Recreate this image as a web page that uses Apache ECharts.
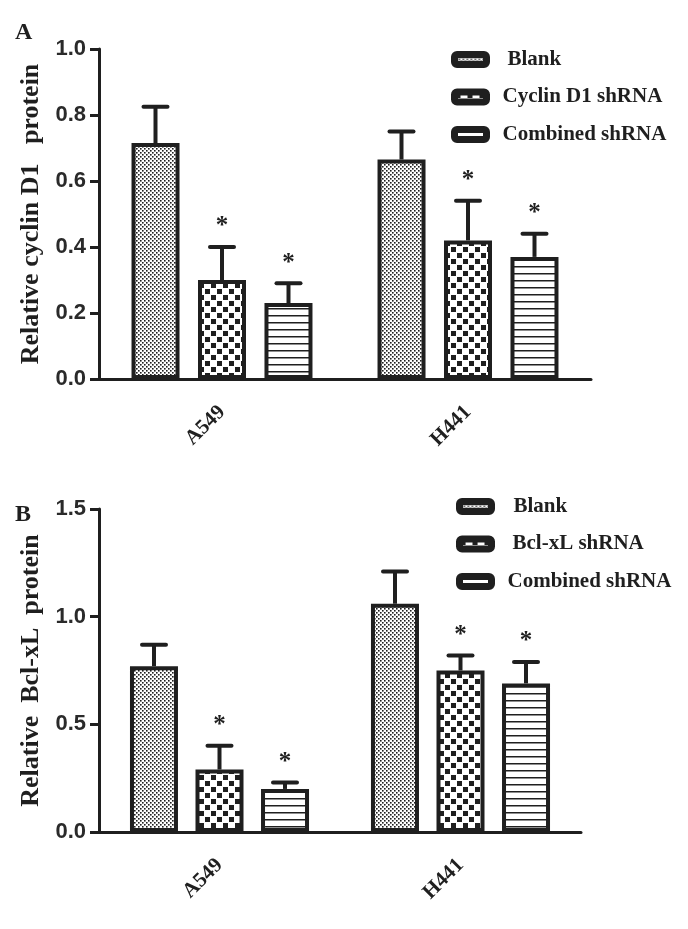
<!DOCTYPE html>
<html>
<head>
<meta charset="utf-8">
<script src="https://cdn.jsdelivr.net/npm/echarts@6/dist/echarts.min.js"></script>
<style>
  html, body { margin: 0; padding: 0; background: #fff; }
  #chart { width: 688px; height: 929px; }
</style>
</head>
<body>
<div id="chart"></div>
<script>
// categories
const cats = ['A549', 'H441'];

// panel A: cyclin D1
const namesA = ['Blank', 'Cyclin D1 shRNA', 'Combined shRNA'];
const blankA = [0.715, 0.665];
const blankErrA = [0.11, 0.085];
const cyclinA = [0.30, 0.42];
const cyclinErrA = [0.10, 0.12];
const combA = [0.23, 0.37];
const combErrA = [0.06, 0.07];

// panel B: Bcl-xL
const namesB = ['Blank', 'Bcl-xL shRNA', 'Combined shRNA'];
const blankB = [0.77, 1.06];
const blankErrB = [0.10, 0.15];
const bclB = [0.29, 0.75];
const bclErrB = [0.11, 0.07];
const combB = [0.20, 0.69];
const combErrB = [0.03, 0.10];

// significance marks (*)
const sigBlank = [0, 0];
const sigTreated = [1, 1];

const yTicksA = { min: 0, max: 1.0, interval: 0.2 };
const yTicksB = { min: 0, max: 1.5, interval: 0.5 };

const INK = '#1f1f1f';
const SERIF = '"Liberation Serif", "Times New Roman", serif';
const SANS = '"Liberation Sans", Arial, sans-serif';

// fill patterns
function makePattern(w, h, draw) {
  const c = document.createElement('canvas');
  c.width = w; c.height = h;
  const ctx = c.getContext('2d');
  ctx.fillStyle = '#fff';
  ctx.fillRect(0, 0, w, h);
  ctx.fillStyle = INK;
  draw(ctx);
  return { image: c, repeat: 'repeat' };
}
const dotFill = makePattern(4, 4, ctx => {
  ctx.fillRect(0, 0, 1.6, 1.6);
  ctx.fillRect(2, 2, 1.6, 1.6);
});
const checkFill = makePattern(12, 12, ctx => {
  ctx.fillRect(1, 1, 5, 5);
  ctx.fillRect(7, 7, 5, 5);
});
const lineFill = makePattern(8, 7, ctx => {
  ctx.fillRect(0, 0, 8, 1.5);
});
const fills = [dotFill, checkFill, lineFill];

const BAR_W = 48;

function barSeries(name, data, idx, axis, gap) {
  return {
    name: name,
    type: 'bar',
    xAxisIndex: axis,
    yAxisIndex: axis,
    barWidth: BAR_W,
    barGap: gap,
    data: data,
    itemStyle: {
      color: fills[idx],
      borderColor: INK,
      borderWidth: 4
    },
    emphasis: { disabled: true },
    z: 2
  };
}

function errSeries(means, errs, sig, idx, axis, pitch) {
  return {
    type: 'custom',
    xAxisIndex: axis,
    yAxisIndex: axis,
    clip: false,
    z: 3,
    data: means.map((m, i) => [i, m, errs[i], sig[i]]),
    encode: { x: 0, y: 1 },
    renderItem: function (params, api) {
      const base = api.coord([api.value(0), api.value(1)]);
      const top = api.coord([api.value(0), api.value(1) + api.value(2)]);
      const x = base[0] + (idx - 1) * pitch;
      const children = [
        { type: 'line', shape: { x1: x, y1: base[1], x2: x, y2: top[1] },
          style: { stroke: INK, lineWidth: 4 } },
        { type: 'line', shape: { x1: x - 12, y1: top[1], x2: x + 12, y2: top[1] },
          style: { stroke: INK, lineWidth: 4, lineCap: 'round' } }
      ];
      if (api.value(3)) {
        children.push({
          type: 'text',
          style: { text: '*', x: x, y: top[1] - 20, align: 'center', verticalAlign: 'middle',
                   font: 'bold 25px ' + SERIF, fill: INK }
        });
      }
      return { type: 'group', children: children };
    }
  };
}

function yAxis(gridIndex, ticks, name) {
  return {
    gridIndex: gridIndex,
    type: 'value',
    min: ticks.min,
    max: ticks.max,
    interval: ticks.interval,
    name: name,
    nameLocation: 'middle',
    nameGap: 50,
    nameTextStyle: { fontFamily: SERIF, fontWeight: 'bold', fontSize: 26, color: INK },
    axisLine: { show: true, lineStyle: { color: INK, width: 3 } },
    axisTick: { show: true, length: 9, lineStyle: { color: INK, width: 3 } },
    axisLabel: { margin: 13, fontFamily: SANS, fontWeight: 'bold', fontSize: 22, color: '#2a2a2a',
                 formatter: v => v.toFixed(1) },
    splitLine: { show: false }
  };
}

function xAxis(gridIndex) {
  return {
    gridIndex: gridIndex,
    type: 'category',
    data: cats,
    axisLine: { lineStyle: { color: INK, width: 3 } },
    axisTick: { alignWithLabel: true, length: 9, lineStyle: { color: INK, width: 3 } },
    axisLabel: { rotate: 45, margin: 30, fontFamily: SERIF, fontWeight: 'bold', fontSize: 21, color: INK }
  };
}

function legend(names, left, top, indent) {
  return {
    data: names.map((n, i) => ({
      name: n,
      textStyle: { padding: [0, 0, 0, 11 + indent[i]] }
    })),
    orient: 'vertical',
    left: left,
    top: top,
    itemWidth: 32,
    itemHeight: 10,
    itemGap: 16.5,
    selectedMode: false,
    itemStyle: { borderWidth: 7, borderColor: INK },
    textStyle: { fontFamily: SERIF, fontWeight: 'bold', fontSize: 21, color: INK, padding: [0, 0, 0, 11], lineHeight: 16 }
  };
}

const PITCH_A = 66.5;
const PITCH_B = 65.5;

const option = {
  animation: false,
  backgroundColor: '#fff',
  grid: [
    { left: 99, top: 49, width: 492, height: 330 },
    { left: 99, top: 509, width: 482, height: 323 }
  ],
  xAxis: [xAxis(0), xAxis(1)],
  yAxis: [
    yAxis(0, yTicksA, 'Relative cyclin D1   protein'),
    yAxis(1, yTicksB, 'Relative  Bcl-xL  protein')
  ],
  legend: [legend(namesA, 446, 44, [5, 0, 0]), legend(namesB, 451, 491, [6, 5, 0])],
  graphic: [
    { type: 'text', left: 15, top: 21, style: { text: 'A', font: 'bold 24px ' + SERIF, fill: INK } },
    { type: 'text', left: 15, top: 503, style: { text: 'B', font: 'bold 24px ' + SERIF, fill: INK } }
  ],
  series: [
    barSeries(namesA[0], blankA, 0, 0, '38.5%'),
    barSeries(namesA[1], cyclinA, 1, 0, '38.5%'),
    barSeries(namesA[2], combA, 2, 0, '38.5%'),
    errSeries(blankA, blankErrA, sigBlank, 0, 0, PITCH_A),
    errSeries(cyclinA, cyclinErrA, sigTreated, 1, 0, PITCH_A),
    errSeries(combA, combErrA, sigTreated, 2, 0, PITCH_A),
    barSeries(namesB[0], blankB, 0, 1, '36.5%'),
    barSeries(namesB[1], bclB, 1, 1, '36.5%'),
    barSeries(namesB[2], combB, 2, 1, '36.5%'),
    errSeries(blankB, blankErrB, sigBlank, 0, 1, PITCH_B),
    errSeries(bclB, bclErrB, sigTreated, 1, 1, PITCH_B),
    errSeries(combB, combErrB, sigTreated, 2, 1, PITCH_B)
  ]
};

const chart = echarts.init(document.getElementById('chart'), null, { renderer: 'canvas' });
chart.setOption(option);
</script>
</body>
</html>
